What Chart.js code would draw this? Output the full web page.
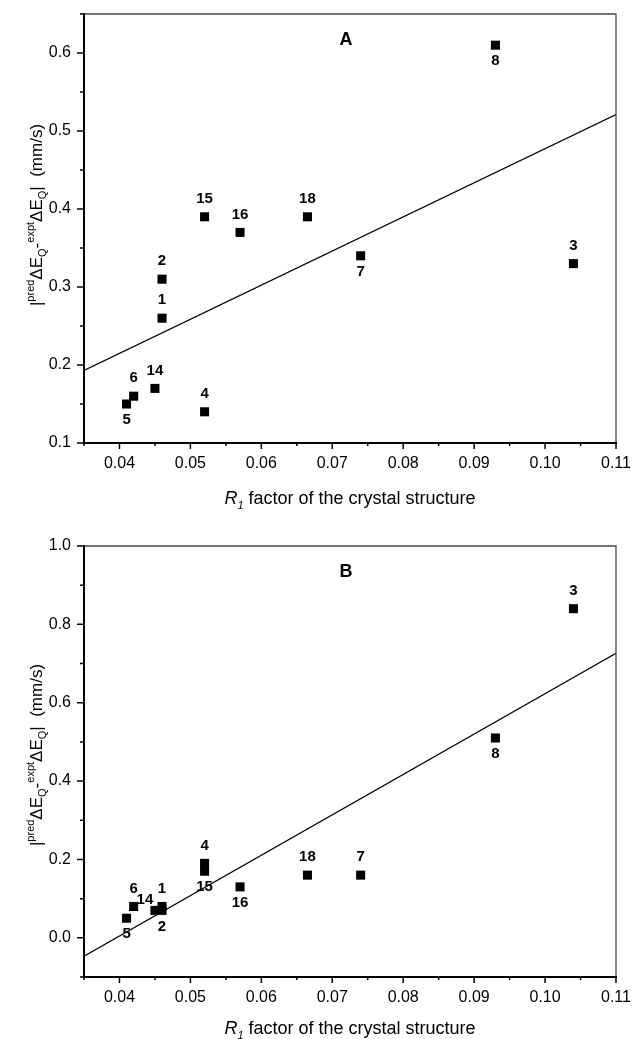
<!DOCTYPE html>
<html>
<head>
<meta charset="utf-8">
<script src="https://cdn.jsdelivr.net/npm/chart.js@4.4.0/dist/chart.umd.min.js"></script>
<style>
  body { margin: 0; background: #fff; width: 633px; height: 1039px; overflow: hidden; position: relative; }
  .box { position: absolute; left: 0; width: 633px; }
  #boxA { top: 0; height: 520px; }
  #boxB { top: 520px; height: 519px; }
</style>
</head>
<body>
<div class="box" id="boxA"><canvas id="chartA"></canvas></div>
<div class="box" id="boxB"><canvas id="chartB"></canvas></div>
<script>
// compound numbers and their R1 factors
const compounds = ['1', '2', '3', '4', '5', '6', '7', '8', '14', '15', '16', '18'];
const r1Factor = [0.046, 0.046, 0.104, 0.052, 0.041, 0.042, 0.074, 0.093, 0.045, 0.052, 0.057, 0.0665];
// |pred dEQ - expt dEQ| (mm/s), panel A and panel B
const errorA = [0.26, 0.31, 0.33, 0.14, 0.15, 0.16, 0.34, 0.61, 0.17, 0.39, 0.37, 0.39];
const errorB = [0.08, 0.07, 0.84, 0.19, 0.05, 0.08, 0.16, 0.51, 0.07, 0.17, 0.13, 0.16];
// fitted straight lines (ends)
const fitX = [0.035, 0.11];
const fitA = [0.193, 0.521];
const fitB = [-0.047, 0.726];

// where each number sits relative to its marker
const placeA = ['up', 'up', 'up', 'up', 'down', 'up', 'down', 'down', 'up', 'up', 'up', 'up'];
const placeB = ['up', 'down', 'up', 'up', 'down', 'up', 'up', 'down', 'upleft', 'down', 'down', 'up'];
const offsets = { up: [0, -18], down: [0, 16], upleft: [-10, -11] };

const FONT = '"Liberation Sans", Arial, sans-serif';

function isMult(v, step) {
    return Math.abs(v / step - Math.round(v / step)) < 1e-6;
}

function drawYTitle(ctx, bx, cy) {
    const big = '17px ' + FONT, small = '11px ' + FONT;
    const parts = [
        ['|', big, 0], ['pred', small, -8], ['\u0394E', big, 0], ['Q', small, 4],
        ['-', big, 0], ['expt', small, -8], ['\u0394E', big, 0], ['Q', small, 4],
        ['|  (mm/s)', big, 0]
    ];
    let w = 0;
    parts.forEach(p => { ctx.font = p[1]; w += ctx.measureText(p[0]).width; });
    ctx.save();
    ctx.translate(bx, cy);
    ctx.rotate(-Math.PI / 2);
    ctx.textBaseline = 'alphabetic';
    ctx.textAlign = 'left';
    let x = -w / 2;
    parts.forEach(p => {
        ctx.font = p[1];
        ctx.fillText(p[0], x, p[2]);
        x += ctx.measureText(p[0]).width;
    });
    ctx.restore();
}

function drawXTitle(ctx, cx, by) {
    const parts = [
        ['R', 'italic 18px ' + FONT, 0], ['1', 'italic 11px ' + FONT, 5],
        [' factor of the crystal structure', '18px ' + FONT, 0]
    ];
    let w = 0;
    parts.forEach(p => { ctx.font = p[1]; w += ctx.measureText(p[0]).width; });
    ctx.save();
    ctx.textBaseline = 'alphabetic';
    ctx.textAlign = 'left';
    let x = cx - w / 2;
    parts.forEach(p => {
        ctx.font = p[1];
        ctx.fillText(p[0], x, by + p[2]);
        x += ctx.measureText(p[0]).width;
    });
    ctx.restore();
}

const decor = {
    id: 'decor',
    afterDraw(chart, args, o) {
        const ctx = chart.ctx, a = chart.chartArea;
        const xs = chart.scales.x, ys = chart.scales.y;
        ctx.save();
        ctx.fillStyle = '#000';

        // frame: light top/right, heavy axes
        ctx.strokeStyle = '#444';
        ctx.lineWidth = 1.3;
        ctx.beginPath();
        ctx.moveTo(a.left, a.top); ctx.lineTo(a.right, a.top); ctx.lineTo(a.right, a.bottom);
        ctx.stroke();
        ctx.strokeStyle = '#000';
        ctx.lineWidth = 2;
        ctx.beginPath();
        ctx.moveTo(a.left, a.top - 1); ctx.lineTo(a.left, a.bottom); ctx.lineTo(a.right + 1, a.bottom);
        ctx.stroke();

        // tick marks, outward
        ctx.lineWidth = 1.5;
        ctx.beginPath();
        xs.ticks.forEach(t => {
            const px = xs.getPixelForValue(t.value);
            const len = isMult(t.value, o.xMajor) ? 6 : 3;
            ctx.moveTo(px, a.bottom); ctx.lineTo(px, a.bottom + len);
        });
        ys.ticks.forEach(t => {
            const py = ys.getPixelForValue(t.value);
            const len = isMult(t.value, o.yMajor) ? 7 : 4;
            ctx.moveTo(a.left, py); ctx.lineTo(a.left - len, py);
        });
        ctx.stroke();

        // compound numbers
        const meta = chart.getDatasetMeta(0);
        ctx.font = 'bold 15px ' + FONT;
        ctx.textAlign = 'center';
        ctx.textBaseline = 'middle';
        meta.data.forEach((pt, i) => {
            const off = offsets[o.place[i]];
            ctx.fillText(compounds[i], pt.x + off[0], pt.y + off[1]);
        });

        // panel letter
        ctx.font = 'bold 18px ' + FONT;
        ctx.fillText(o.letter, 346, a.top + 26);

        drawYTitle(ctx, 42, o.yTitleY);
        drawXTitle(ctx, (a.left + a.right) / 2, o.xTitleY);
        ctx.restore();
    }
};

function makeChart(id, ys, fitY, cfg) {
    return new Chart(document.getElementById(id), {
        type: 'scatter',
        data: {
            datasets: [
                {
                    data: r1Factor.map((x, i) => ({ x: x, y: ys[i] })),
                    pointStyle: 'rect',
                    pointRadius: 6.4,
                    pointHoverRadius: 6.4,
                    backgroundColor: '#000',
                    borderColor: '#000',
                    borderWidth: 0
                },
                {
                    data: fitX.map((x, i) => ({ x: x, y: fitY[i] })),
                    showLine: true,
                    pointRadius: 0,
                    borderColor: '#000',
                    borderWidth: 1.3,
                    fill: false
                }
            ]
        },
        options: {
            responsive: true,
            maintainAspectRatio: false,
            animation: false,
            layout: { padding: { top: cfg.top, right: 17, left: 0, bottom: 0 } },
            plugins: {
                legend: { display: false },
                tooltip: { enabled: false },
                decor: cfg.decor
            },
            scales: {
                x: {
                    type: 'linear',
                    min: 0.035,
                    max: 0.11,
                    afterFit: s => { s.height = cfg.xh; s.paddingLeft = 0; s.paddingRight = 0; },
                    grid: { display: false, drawTicks: false },
                    border: { display: false },
                    ticks: {
                        stepSize: 0.005,
                        autoSkip: false,
                        maxRotation: 0,
                        padding: 11,
                        color: '#000',
                        font: { family: FONT, size: 16 },
                        callback: v => isMult(v, 0.01) ? v.toFixed(2) : ''
                    }
                },
                y: {
                    type: 'linear',
                    min: cfg.ymin,
                    max: cfg.ymax,
                    afterFit: s => { s.width = 84; s.paddingTop = 0; s.paddingBottom = 0; },
                    grid: { display: false, drawTicks: false },
                    border: { display: false },
                    ticks: {
                        stepSize: cfg.ystep,
                        autoSkip: false,
                        padding: 13,
                        color: '#000',
                        font: { family: FONT, size: 16 },
                        callback: v => isMult(v, cfg.decor.yMajor) ? (Math.abs(v) < 1e-9 ? 0 : v).toFixed(1) : ''
                    }
                }
            }
        },
        plugins: [decor]
    });
}

makeChart('chartA', errorA, fitA, {
    top: 14, xh: 77, ymin: 0.1, ymax: 0.65, ystep: 0.05,
    decor: { xMajor: 0.01, yMajor: 0.1, place: placeA, letter: 'A', yTitleY: 215, xTitleY: 504 }
});
makeChart('chartB', errorB, fitB, {
    top: 26, xh: 62, ymin: -0.1, ymax: 1.0, ystep: 0.1,
    decor: { xMajor: 0.01, yMajor: 0.2, place: placeB, letter: 'B', yTitleY: 235, xTitleY: 514 }
});
</script>
</body>
</html>
